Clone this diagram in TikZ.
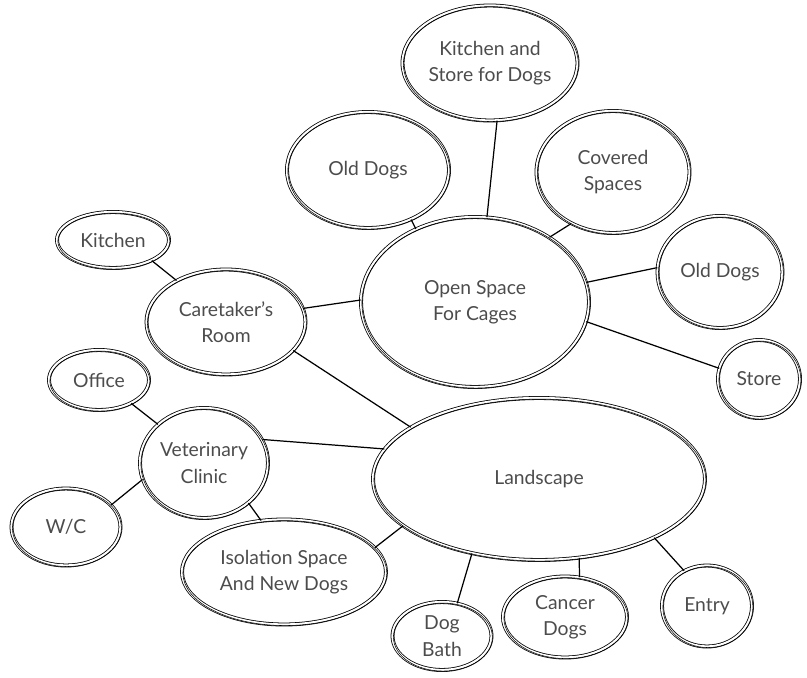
\documentclass[tikz,border=0pt]{standalone}
\usepackage{fontspec}
\setmainfont{Lato}
\usetikzlibrary{shapes.geometric}

\begin{document}
\begin{tikzpicture}[x=0.02cm, y=-0.02cm,
    bubble/.style={ellipse, draw, line width=0.45pt, double=white, double distance=1.3pt,
        inner sep=0pt, align=center, text=black!70, font=\fontsize{11}{15}\selectfont,
        postaction={draw, line width=0.3pt, transform canvas={shift={(0.5pt,-0.6pt)}}}},
    link/.style={line width=0.7pt}]
    \useasboundingbox (0,0) rectangle (807,677);

    % top cluster
    \node[bubble, minimum width=3.5cm, minimum height=2.3cm] (kstore) at (490,63) {Kitchen and\\Store for Dogs};
    \node[bubble, minimum width=3.24cm, minimum height=2.32cm] (olddogsA) at (368,170) {Old Dogs};
    \node[bubble, minimum width=3.06cm, minimum height=2.44cm] (covered) at (613,172) {Covered\\Spaces};
    \node[bubble, minimum width=4.56cm, minimum height=3.4cm] (open) at (475,302) {Open Space\\For Cages};
    \node[bubble, minimum width=2.5cm, minimum height=2.24cm] (olddogsB) at (720,272) {Old Dogs};
    \node[bubble, minimum width=1.64cm, minimum height=1.56cm] (store) at (759,379) {Store};

    % left cluster
    \node[bubble, minimum width=2.24cm, minimum height=1.12cm] (kitchen) at (113,240) {Kitchen};
    \node[bubble, minimum width=3.18cm, minimum height=2.1cm] (caretaker) at (226,322) {Caretaker's\\Room};
    \node[bubble, minimum width=2.0cm, minimum height=1.2cm] (office) at (99,380) {Office};
    \node[bubble, minimum width=2.56cm, minimum height=2.2cm] (vet) at (204,463) {Veterinary\\Clinic};
    \node[bubble, minimum width=2.18cm, minimum height=1.54cm] (wc) at (66,527) {W/C};
    \node[bubble, minimum width=4.08cm, minimum height=2.1cm] (iso) at (284,572) {Isolation Space\\And New Dogs};

    % landscape and bottom
    \node[bubble, minimum width=6.64cm, minimum height=3.24cm] (land) at (539,479) {Landscape};
    \node[bubble, minimum width=1.98cm, minimum height=1.36cm] (bath) at (442,636) {Dog\\Bath};
    \node[bubble, minimum width=2.48cm, minimum height=1.62cm] (cancer) at (565,617) {Cancer\\Dogs};
    \node[bubble, minimum width=1.8cm, minimum height=1.62cm] (entry) at (707,606) {Entry};

    % links
    \draw[link] (kstore.277) -- (open.82);
    \draw[link] (olddogsA.311) -- (open.129);
    \draw[link] (covered.231) -- (open.41);
    \draw[link] (open.10) -- (olddogsB.176);
    \draw[link] (open.350) -- (store.165);
    \draw[link] (caretaker.10) -- (open.179);
    \draw[link] (kitchen.332) -- (caretaker.140);
    \draw[link] (caretaker.337) -- (land.158);
    \draw[link] (office.324) -- (vet.140);
    \draw[link] (vet.195) -- (wc.26);
    \draw[link] (vet.22) -- (land.169);
    \draw[link] (vet.318) -- (iso.114);
    \draw[link] (iso.15) -- (land.199);
    \draw[link] (land.228) -- (bath.65);
    \draw[link] (land.297) -- (cancer.70);
    \draw[link] (land.333) -- (entry.123);
\end{tikzpicture}
\end{document}
